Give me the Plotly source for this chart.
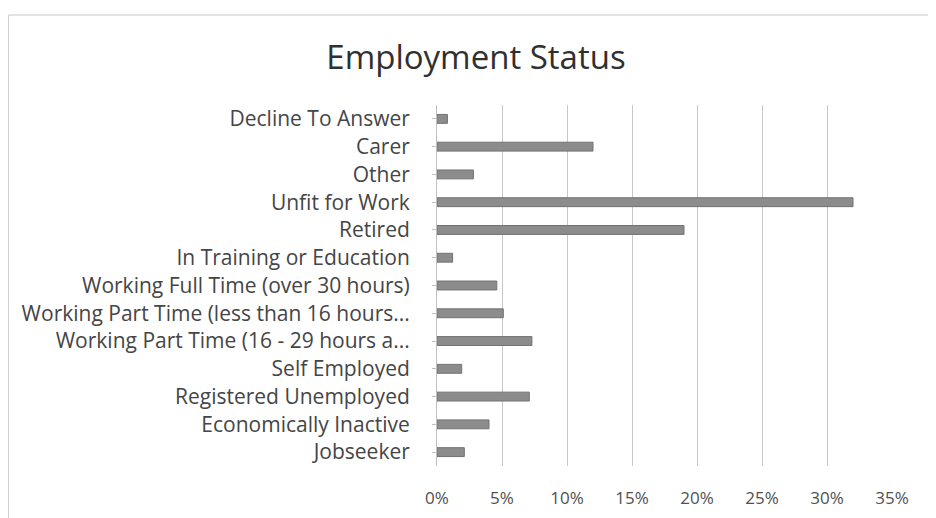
import plotly.graph_objects as go

categories = [
    "Decline To Answer",
    "Carer",
    "Other",
    "Unfit for Work",
    "Retired",
    "In Training or Education",
    "Working Full Time (over 30 hours)",
    "Working Part Time (less than 16 hours...",
    "Working Part Time (16 - 29 hours a...",
    "Self Employed",
    "Registered Unemployed",
    "Economically Inactive",
    "Jobseeker",
]
values = [0.008, 0.12, 0.028, 0.32, 0.19, 0.012, 0.046, 0.051, 0.073, 0.019, 0.071, 0.040, 0.021]
tick_vals = [0, 0.05, 0.10, 0.15, 0.20, 0.25, 0.30, 0.35]
tick_text = ["0%", "5%", "10%", "15%", "20%", "25%", "30%", "35%"]

font_family = "Open Sans, DejaVu Sans, sans-serif"
text_color = "#454545"

# page body has an 8px margin; figure coords = page coords - 8
W, H = 928, 510
L, T = 429, 97
PW, PH = 455, 361
R = W - L - PW
B = H - T - PH

fig = go.Figure(
    go.Bar(
        y=categories,
        x=values,
        orientation="h",
        marker=dict(color="#8c8c8c", line=dict(color="#727272", width=1)),
    )
)

top_border = (H - B - 7) / PH
left_border = (0.5 - L) / PW

fig.update_layout(
    width=W,
    height=H,
    paper_bgcolor="white",
    plot_bgcolor="white",
    margin=dict(l=L, r=R, t=T, b=B, autoexpand=False),
    bargap=0.68,
    showlegend=False,
    title=dict(
        text="Employment Status",
        x=468 / W,
        xanchor="center",
        y=1 - 49 / H,
        yanchor="middle",
        font=dict(family=font_family, size=33, color="#303030"),
    ),
    font=dict(family=font_family, color=text_color),
    shapes=[
        dict(type="line", xref="paper", yref="paper",
             x0=left_border, x1=1.2, y0=top_border, y1=top_border,
             line=dict(color="#c8c8c8", width=1)),
        dict(type="line", xref="paper", yref="paper",
             x0=left_border, x1=left_border, y0=-0.2, y1=top_border,
             line=dict(color="#d0d0d0", width=1)),
    ],
)

fig.update_xaxes(
    range=[0, 0.35],
    tickvals=tick_vals,
    ticktext=tick_text,
    showgrid=True,
    gridcolor="#c8c8c8",
    gridwidth=1,
    zeroline=False,
    showline=False,
    ticks="",
    ticklabelstandoff=20,
    tickfont=dict(family=font_family, size=17, color="#505050"),
)

fig.update_yaxes(
    categoryorder="array",
    categoryarray=categories,
    autorange="reversed",
    showgrid=False,
    showline=True,
    linecolor="#c0c0c0",
    ticks="outside",
    ticklen=4,
    tickcolor="#c0c0c0",
    ticklabelstandoff=18,
    tickfont=dict(family=font_family, size=21, color=text_color),
)

fig.write_html("out.html")
